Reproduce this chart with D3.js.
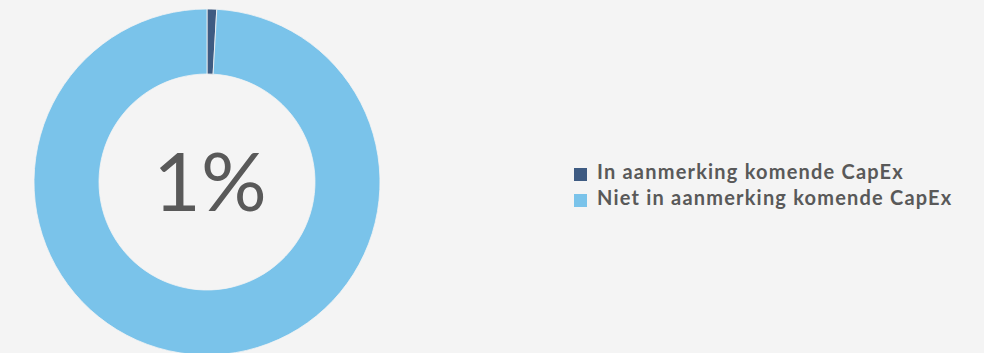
<!DOCTYPE html>
<html>
<head>
<meta charset="utf-8">
<script src="https://cdn.jsdelivr.net/npm/d3@7"></script>
<style>
  html, body { margin: 0; padding: 0; background: #f4f4f4; }
  svg { display: block; }
</style>
</head>
<body>
<div id="chart"></div>
<script>
// data
var categories = ["In aanmerking komende CapEx", "Niet in aanmerking komende CapEx"];
var values = [0.9, 99.1];
var colors = ["#3e5b82", "#7ac3ea"];
var centerLabel = "1%";

var width = 984, height = 353;
var cx = 207, cy = 182;
var outerR = 173, innerR = 108;

var svg = d3.select("#chart").append("svg")
    .attr("width", width)
    .attr("height", height);

svg.append("rect").attr("width", width).attr("height", height).attr("fill", "#f4f4f4");

var pie = d3.pie().sort(null).value(function(d) { return d; });
var arc = d3.arc().innerRadius(innerR).outerRadius(outerR);

var g = svg.append("g").attr("transform", "translate(" + cx + "," + cy + ")");

g.selectAll("path")
    .data(pie(values))
    .enter()
    .append("path")
    .attr("d", arc)
    .attr("fill", function(d, i) { return colors[i]; })
    .attr("stroke", "#f4f4f4")
    .attr("stroke-width", 0.8);

// center text
g.append("text")
    .attr("x", 3)
    .attr("y", 29)
    .attr("text-anchor", "middle")
    .style("font-family", "'Century Gothic', 'URW Gothic', 'Lato', sans-serif")
    .style("font-size", "82px")
    .style("fill", "#595959")
    .text(centerLabel);

// legend
var legend = svg.append("g").attr("transform", "translate(574,168)");
var item = legend.selectAll("g")
    .data(categories)
    .enter()
    .append("g")
    .attr("transform", function(d, i) { return "translate(0," + (i * 26) + ")"; });

item.append("rect")
    .attr("width", 13)
    .attr("height", 13)
    .attr("fill", function(d, i) { return colors[i]; });

item.append("text")
    .attr("x", 23)
    .attr("y", 10.5)
    .style("font-family", "'Century Gothic', 'Lato', 'Open Sans', sans-serif")
    .style("font-weight", "bold")
    .style("font-size", "20px")
    .style("letter-spacing", "1.2px")
    .style("fill", "#595959")
    .text(function(d) { return d; });
</script>
</body>
</html>
